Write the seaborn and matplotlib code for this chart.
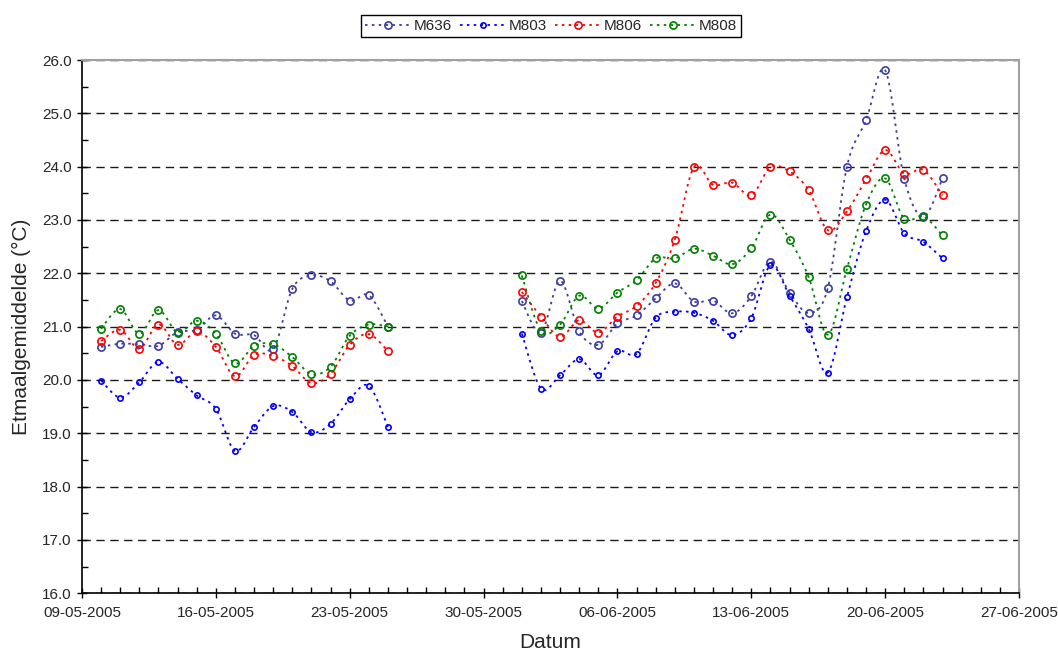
import numpy as np
import pandas as pd
import matplotlib
matplotlib.use("Agg")
import matplotlib.pyplot as plt
import matplotlib.dates as mdates
import matplotlib.ticker as mticker
from matplotlib.lines import Line2D
import seaborn as sns

# Measurement days: two periods with a gap of missing data in between
days_period1 = pd.date_range("2005-05-10", "2005-05-25", freq="D")
days_period2 = pd.date_range("2005-06-01", "2005-06-23", freq="D")

# Weekly date ticks
week_ticks = pd.date_range("2005-05-09", "2005-06-27", freq="7D")

# Daily mean temperature (°C) per station, period 1
m636_p1 = [20.62, 20.68, 20.67, 20.64, 20.90, 20.94, 21.21, 20.87,
           20.84, 20.58, 21.71, 21.96, 21.85, 21.49, 21.59, 21.00]
m803_p1 = [19.99, 19.67, 19.96, 20.34, 20.02, 19.71, 19.46, 18.67,
           19.12, 19.51, 19.40, 19.02, 19.18, 19.64, 19.89, 19.12]
m806_p1 = [20.73, 20.94, 20.59, 21.04, 20.66, 20.91, 20.62, 20.07,
           20.47, 20.45, 20.26, 19.94, 20.12, 20.66, 20.86, 20.54]
m808_p1 = [20.96, 21.33, 20.87, 21.31, 20.89, 21.11, 20.87, 20.31,
           20.64, 20.67, 20.43, 20.11, 20.25, 20.83, 21.04, 21.00]

# Daily mean temperature (°C) per station, period 2
m636_p2 = [21.48, 20.89, 21.86, 20.91, 20.66, 21.06, 21.21, 21.53, 21.81,
           21.47, 21.49, 21.25, 21.57, 22.22, 21.64, 21.26, 21.72, 24.00,
           24.87, 25.81, 23.77, 23.06, 23.78]
m803_p2 = [20.87, 19.84, 20.09, 20.39, 20.09, 20.54, 20.49, 21.17, 21.28,
           21.26, 21.11, 20.84, 21.16, 22.15, 21.58, 20.96, 20.14, 21.55,
           22.79, 23.38, 22.75, 22.59, 22.28]
m806_p2 = [21.65, 21.19, 20.81, 21.12, 20.89, 21.19, 21.39, 21.82, 22.63,
           23.99, 23.66, 23.70, 23.46, 23.99, 23.91, 23.56, 22.81, 23.16,
           23.76, 24.31, 23.87, 23.94, 23.46]
m808_p2 = [21.96, 20.92, 21.04, 21.58, 21.34, 21.64, 21.87, 22.28, 22.28,
           22.46, 22.33, 22.17, 22.47, 23.10, 22.63, 21.93, 20.85, 22.08,
           23.29, 23.78, 23.02, 23.07, 22.71]

stations = ["M636", "M803", "M806", "M808"]
series = {
    "M636": (m636_p1, m636_p2),
    "M803": (m803_p1, m803_p2),
    "M806": (m806_p1, m806_p2),
    "M808": (m808_p1, m808_p2),
}
colors = {"M636": "#3C3CA2", "M803": "#0000FF", "M806": "#FF0000", "M808": "#008000"}
msize = {"M636": 5.2, "M803": 3.8, "M806": 5.2, "M808": 5.2}

DOT = (0, (1.4, 2.4))


def smooth_curve(x, y, steps=20):
    """Bezier smoothing through every point (spreadsheet-style smoothed line)."""
    x = np.asarray(x, float)
    y = np.asarray(y, float)
    n = len(x)
    xs, ys = [], []
    for i in range(n - 1):
        i0 = max(i - 1, 0)
        i3 = min(i + 2, n - 1)
        p0 = np.array([x[i0], y[i0]])
        p1 = np.array([x[i], y[i]])
        p2 = np.array([x[i + 1], y[i + 1]])
        p3 = np.array([x[i3], y[i3]])
        c1 = p1 + (p2 - p0) / 6.0
        c2 = p2 - (p3 - p1) / 6.0
        t = np.linspace(0, 1, steps, endpoint=(i == n - 2))[:, None]
        pts = ((1 - t) ** 3) * p1 + 3 * ((1 - t) ** 2) * t * c1 + 3 * (1 - t) * t ** 2 * c2 + t ** 3 * p2
        xs.append(pts[:, 0])
        ys.append(pts[:, 1])
    return np.concatenate(xs), np.concatenate(ys)


sns.set_style("white")
plt.rcParams["font.family"] = ["Liberation Sans", "DejaVu Sans"]

fig = plt.figure(figsize=(10.58, 6.52), dpi=100)
ax = fig.add_axes([82 / 1058, 1 - 593.3 / 652, (1019 - 82) / 1058, (593.3 - 60) / 652])

for name in stations:
    for days, vals in zip((days_period1, days_period2), series[name]):
        xnum = mdates.date2num(days.to_pydatetime())
        sx, sy = smooth_curve(xnum, vals)
        curve = pd.DataFrame({"x": sx, "y": sy})
        sns.lineplot(data=curve, x="x", y="y", sort=False, estimator=None, ax=ax,
                     color=colors[name], linestyle=DOT, linewidth=1.3, zorder=3)
        ax.plot(xnum, vals, linestyle="none", marker="o", markersize=msize[name],
                markerfacecolor="none", markeredgecolor=colors[name],
                markeredgewidth=1.2, zorder=4)

# Axes limits and ticks
ax.set_xlim(mdates.date2num(week_ticks[0]), mdates.date2num(week_ticks[-1]))
ax.set_ylim(16, 26)
ax.xaxis.set_major_locator(mticker.FixedLocator(mdates.date2num(week_ticks.to_pydatetime())))
ax.xaxis.set_major_formatter(mdates.DateFormatter("%d-%m-%Y"))
ax.xaxis.set_minor_locator(mdates.DayLocator())
ax.set_yticks(np.arange(16, 26.01, 1.0))
ax.set_yticks(np.arange(16.5, 26, 1.0), minor=True)
ax.yaxis.set_major_formatter(mticker.FormatStrFormatter("%.1f"))

ax.tick_params(which="major", direction="inout", length=7, width=1, color="black",
               labelsize=11, pad=4, bottom=True, left=True)
ax.tick_params(which="minor", direction="in", length=4, width=1, color="black",
               bottom=True, left=True)
ax.tick_params(axis="x", which="major", pad=6)

# Horizontal dashed gridlines
ax.yaxis.grid(True, which="major", linestyle=(0, (6, 4)), color="#1a1a1a", linewidth=1.0)
ax.xaxis.grid(False)
ax.set_axisbelow(True)

for side in ("left", "bottom"):
    ax.spines[side].set_color("black")
    ax.spines[side].set_linewidth(1.2)
for side in ("top", "right"):
    ax.spines[side].set_color("#A0A0A0")
    ax.spines[side].set_linewidth(1.5)

ax.set_xlabel("Datum", fontsize=15, labelpad=9)
ax.set_ylabel("Etmaalgemiddelde (°C)", fontsize=15, labelpad=8)

# Legend
handles = [Line2D([0], [0], color=colors[n], linestyle=DOT, linewidth=1.3, marker="o",
                  markersize=msize[n], markerfacecolor="none", markeredgecolor=colors[n],
                  markeredgewidth=1.2) for n in stations]
leg = fig.legend(handles, stations, loc="center", bbox_to_anchor=(551 / 1058, 1 - 26 / 652),
                 ncol=4, frameon=True, fancybox=False, framealpha=1, edgecolor="black",
                 fontsize=11, handlelength=3.0, handletextpad=0.2, columnspacing=0.5,
                 borderpad=0.25, borderaxespad=0)
leg.get_frame().set_linewidth(1.0)

fig.savefig("out.png", dpi=100)
